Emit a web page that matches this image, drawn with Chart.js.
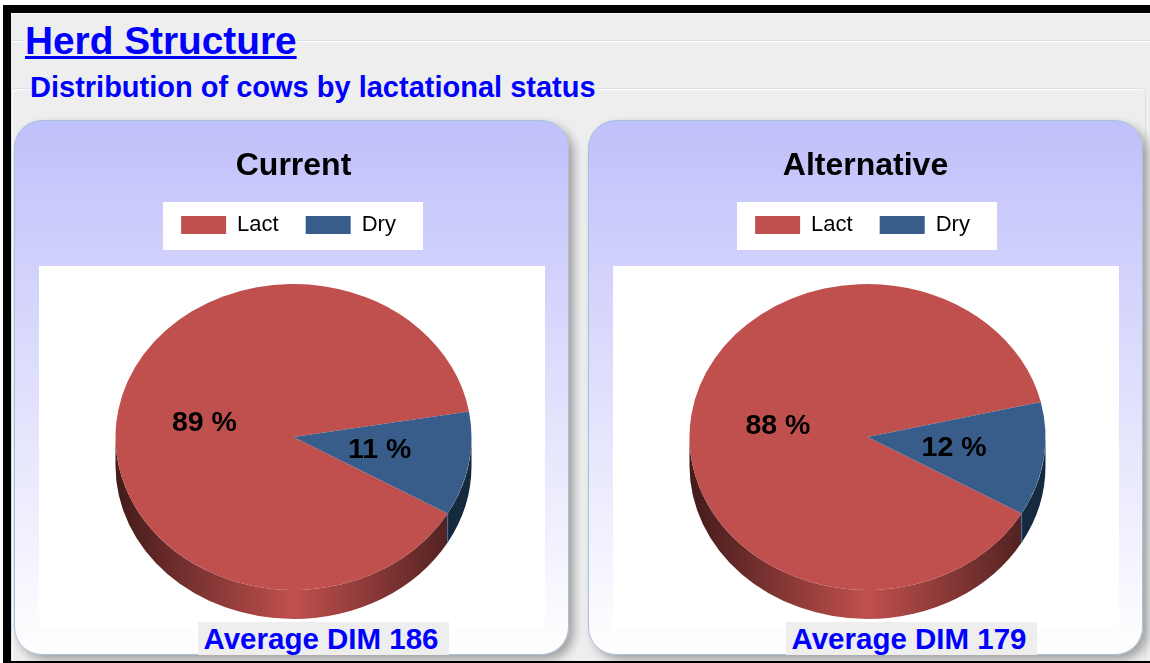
<!DOCTYPE html>
<html>
<head>
<meta charset="utf-8">
<title>Herd Structure</title>
<script src="https://cdn.jsdelivr.net/npm/chart.js@4"></script>
<style>
  html, body { margin:0; padding:0; background:#fff; overflow:hidden; }
  body { width:1150px; height:663px; position:relative; font-family:"Liberation Sans", Arial, sans-serif; filter:blur(0.4px); }
  .frame { position:absolute; left:3px; top:5px; width:1139px; height:648px; background:#eee;
           border-top:8px solid #000; border-left:8px solid #000; border-bottom:2px solid #000; }
  .white-top { position:absolute; left:11px; top:13px; width:1139px; height:1px; background:#fff; }
  .bg-right { position:absolute; left:1142px; top:14px; width:8px; height:647px; background:#eee; }
  .bg-right-bar { position:absolute; left:1142px; top:5px; width:8px; height:8px; background:#000; }
  .rule { position:absolute; left:11px; top:40px; width:1139px; height:1px; background:#d6e0e6; box-shadow:0 1px 0 #fff; }
  .box { position:absolute; left:11px; top:88px; width:1135px; height:573px; border:1px solid #d6e0e6; border-bottom:0;
         border-radius:5px 5px 0 0; box-sizing:border-box; box-shadow:inset 1px 1px 0 #fff; }
  h1, h2 { position:absolute; margin:0; background:#eee; font-weight:bold; color:#0000ff; white-space:nowrap; }
  h1 { left:25px; top:19px; font-size:38.8px; line-height:44px; text-decoration:underline; text-decoration-thickness:3px; }
  h2 { left:30px; top:70px; font-size:29px; line-height:34px; }
  .panel { position:absolute; top:120px; width:555px; height:535px; box-sizing:border-box; border:1px solid #a8c0dc;
           border-radius:28px; background:linear-gradient(#c0c0fb, #ffffff); box-shadow:5px 5px 10px rgba(0,0,0,.32); }
  .panel canvas { position:absolute; left:-1px; top:-1px; }
  .dim { position:absolute; top:622px; width:246px; padding-right:5px; height:33px; line-height:33px; background:#eee; color:#0000ff;
         font-weight:bold; font-size:29.5px; text-align:center; white-space:nowrap; }
  .bottom-bar { position:absolute; left:3px; top:661px; width:1147px; height:2px; background:#000; }
</style>
</head>
<body>
<div class="frame"></div>
<div class="bg-right"></div><div class="bg-right-bar"></div>
<div class="white-top"></div>
<div class="rule"></div>
<div class="box"></div>
<h1>Herd Structure</h1>
<h2>Distribution of cows by lactational status</h2>

<div class="panel" style="left:14px"><canvas id="chart0" width="555" height="535"></canvas></div>
<div class="panel" style="left:588px"><canvas id="chart1" width="555" height="535"></canvas></div>
<div class="dim" id="dim0" style="left:198px"></div>
<div class="dim" id="dim1" style="left:786px"></div>
<div class="bottom-bar"></div>

<script>
const categories = ['Lact', 'Dry'];
const currentValues = [89, 11];
const alternativeValues = [88, 12];
const panelTitles = ['Current', 'Alternative'];
const averageDim = [186, 179];
const sliceColors = ['#c0504d', '#385d8a'];

// pie is drawn flattened and sitting on a wall, like the old 3D pie
const RX = 178, RY = 153, DEPTH = 29;
const CX = 279.5, CY = 317;

// ── WHITE BACKINGS + 3D WALL ──────────────────────────────
const pie3d = {
  id: 'pie3d',
  afterLayout(chart, args, opts) {
    // the swatch + text row sits a bit left of the white box centre
    chart.legend.left -= 3;
    chart.legend.right -= 3;
    chart.titleBlock.left += opts.titleShift;
    chart.titleBlock.right += opts.titleShift;
  },
  beforeDraw(chart) {
    const ctx = chart.ctx;
    ctx.save();
    ctx.fillStyle = '#fff';
    ctx.fillRect(149, 82, 260, 48);
    ctx.fillRect(25, 146, 506, 364);
    ctx.restore();
  },
  beforeDatasetsDraw(chart) {
    const ctx = chart.ctx;
    const arcs = chart.getDatasetMeta(0).data;
    const grad = ctx.createLinearGradient(CX - RX, 0, CX + RX, 0);
    grad.addColorStop(0, '#421b1a');
    grad.addColorStop(0.5, '#c0504d');
    grad.addColorStop(1, '#421b1a');

    ctx.save();
    arcs.forEach((arc, i) => {
      ctx.fillStyle = i === 0 ? grad : '#15293f';
      // only the part of each slice facing the viewer has a wall
      [0, 2 * Math.PI].forEach(turn => {
        const from = Math.max(arc.startAngle, turn);
        const to = Math.min(arc.endAngle, turn + Math.PI);
        if (to <= from) return;
        ctx.beginPath();
        ctx.ellipse(CX, CY, RX, RY, 0, from, to);
        ctx.ellipse(CX, CY + DEPTH, RX, RY, 0, to, from, true);
        ctx.closePath();
        ctx.fill();
      });
    });
    // light edge where the dry slice wall ends
    const end = arcs[1].endAngle;
    const ex = CX + RX * Math.cos(end), ey = CY + RY * Math.sin(end);
    ctx.strokeStyle = '#3f74aa';
    ctx.lineWidth = 1;
    ctx.beginPath();
    ctx.moveTo(ex, ey);
    ctx.lineTo(ex, ey + DEPTH);
    ctx.stroke();
    ctx.restore();

    // flatten the library's arcs
    const a = arcs[0];
    ctx.save();
    ctx.translate(CX, CY);
    ctx.scale(1, RY / RX);
    ctx.translate(-a.x, -a.y);
  },
  afterDatasetsDraw(chart) {
    const ctx = chart.ctx;
    ctx.restore();

    // percent labels at half radius
    const values = chart.data.datasets[0].data;
    ctx.save();
    ctx.font = 'bold 28.5px "Liberation Sans", Arial, sans-serif';
    ctx.fillStyle = '#000';
    ctx.textAlign = 'center';
    ctx.textBaseline = 'middle';
    chart.getDatasetMeta(0).data.forEach((arc, i) => {
      const mid = (arc.startAngle + arc.endAngle) / 2;
      ctx.fillText(values[i] + ' %', CX - 1.5 + 0.5 * RX * Math.cos(mid), CY + 0.5 * RY * Math.sin(mid));
    });
    ctx.restore();
  }
};

// ── BUILD ONE PANEL ───────────────────────────────────────
function renderPie(id, title, values, titleShift) {
  new Chart(document.getElementById(id), {
    type: 'pie',
    data: {
      labels: categories,
      datasets: [{
        data: values,
        backgroundColor: sliceColors,
        borderWidth: 0,
        hoverOffset: 0
      }]
    },
    options: {
      responsive: false,
      animation: false,
      events: [],
      rotation: 120,
      radius: RX,
      plugins: {
        pie3d: { titleShift },
        title: {
          display: true,
          text: title,
          color: '#000',
          font: { family: '"Liberation Sans", Arial, sans-serif', size: 32, weight: 'bold' },
          padding: { top: 27, bottom: 1.6 }
        },
        legend: {
          position: 'top',
          labels: {
            boxWidth: 45,
            boxHeight: 18,
            padding: 27,
            color: '#000',
            font: { family: '"Liberation Sans", Arial, sans-serif', size: 22 }
          }
        },
        tooltip: { enabled: false }
      }
    },
    plugins: [pie3d]
  });
}

renderPie('chart0', panelTitles[0], currentValues, 2);
renderPie('chart1', panelTitles[1], alternativeValues, 0);

document.getElementById('dim0').textContent = 'Average DIM ' + averageDim[0];
document.getElementById('dim1').textContent = 'Average DIM ' + averageDim[1];
</script>
</body>
</html>
